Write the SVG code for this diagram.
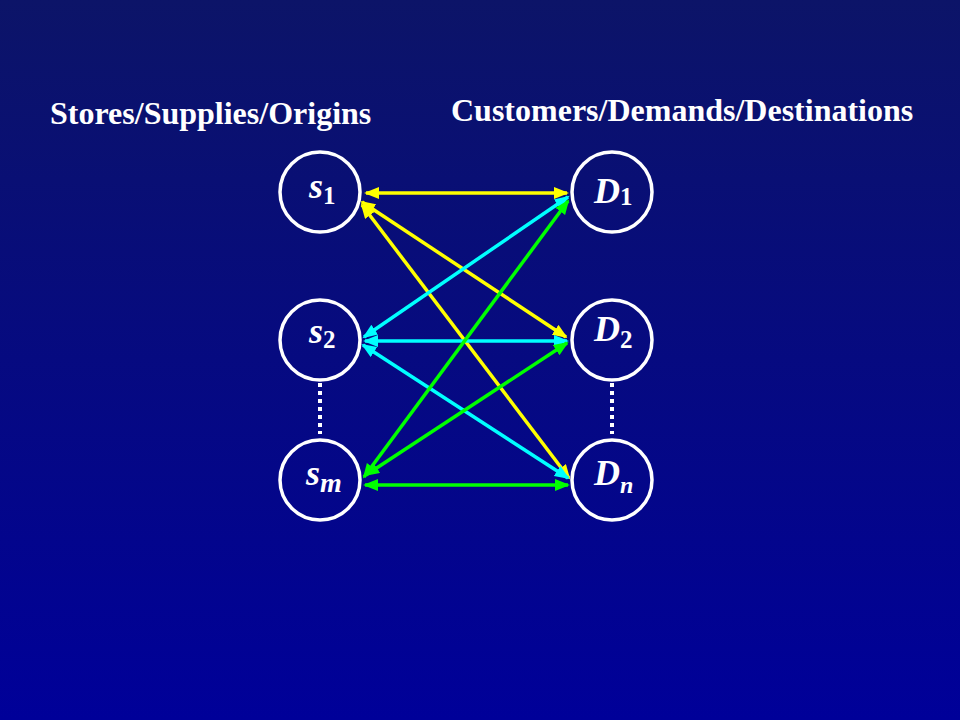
<svg xmlns="http://www.w3.org/2000/svg" width="960" height="720" viewBox="0 0 960 720">
<defs>
<linearGradient id="bg" x1="0" y1="0" x2="0" y2="1">
<stop offset="0" stop-color="#0c1468"/>
<stop offset="1" stop-color="#000099"/>
</linearGradient>
<marker id="ay" markerUnits="userSpaceOnUse" markerWidth="16" markerHeight="14" refX="13" refY="6" orient="auto-start-reverse"><path d="M0,0 L15,6 L0,12 z" fill="#ffff00"/></marker>
<marker id="ac" markerUnits="userSpaceOnUse" markerWidth="16" markerHeight="14" refX="13" refY="6" orient="auto-start-reverse"><path d="M0,0 L15,6 L0,12 z" fill="#00ffff"/></marker>
<marker id="ag" markerUnits="userSpaceOnUse" markerWidth="16" markerHeight="14" refX="13" refY="6" orient="auto-start-reverse"><path d="M0,0 L15,6 L0,12 z" fill="#00ff00"/></marker>
<style>
.node circle{fill:none;stroke:#ffffff;stroke-width:3.5}
.lbl{font-family:"Liberation Serif","Times New Roman",serif;font-weight:bold;font-style:italic;font-size:36px;fill:#ffffff}
.sub{font-size:25px;font-style:normal}
.subi{font-size:28px;font-style:italic}
.title{font-family:"Liberation Serif","Times New Roman",serif;font-weight:bold;font-size:32px;fill:#ffffff}
.y{stroke:#ffff00;stroke-width:3.5;fill:none;marker-start:url(#ay);marker-end:url(#ay)}
.c{stroke:#00ffff;stroke-width:3.5;fill:none;marker-start:url(#ac);marker-end:url(#ac)}
.g{stroke:#00ff00;stroke-width:3.5;fill:none;marker-start:url(#ag);marker-end:url(#ag)}
.dots{stroke:#ffffff;stroke-width:4;stroke-dasharray:4 4}
</style>
</defs>
<rect width="960" height="720" fill="url(#bg)"/>
<text class="title" x="50" y="124">Stores/Supplies/Origins</text>
<text class="title" x="451" y="121">Customers/Demands/Destinations</text>
<g id="connectors">
<line class="y" x1="366" y1="193" x2="567" y2="193"/>
<line class="y" x1="362" y1="202" x2="566" y2="337"/>
<line class="y" x1="362" y1="205" x2="569" y2="478"/>
<line class="c" x1="568" y1="197" x2="364" y2="337"/>
<line class="c" x1="365" y1="341" x2="567" y2="341"/>
<line class="c" x1="363" y1="345" x2="568" y2="478"/>
<line class="g" x1="568" y1="201" x2="364" y2="477"/>
<line class="g" x1="567" y1="343" x2="366" y2="475"/>
<line class="g" x1="365" y1="485" x2="568" y2="485"/>
<line class="dots" x1="320" y1="383" x2="320" y2="434"/>
<line class="dots" x1="612" y1="383" x2="612" y2="434"/>
</g>
<g id="s1" class="node"><circle cx="320" cy="192" r="40"/><text class="lbl" x="309" y="198">s<tspan class="sub" dy="6">1</tspan></text></g>
<g id="s2" class="node"><circle cx="320" cy="340" r="40"/><text class="lbl" x="309" y="343">s<tspan class="sub" dy="5">2</tspan></text></g>
<g id="sm" class="node"><circle cx="320" cy="480" r="40"/><text class="lbl" x="306" y="485">s<tspan class="subi" dy="7">m</tspan></text></g>
<g id="D1" class="node"><circle cx="612" cy="192" r="40"/><text class="lbl" x="594" y="203">D<tspan class="sub" dy="2">1</tspan></text></g>
<g id="D2" class="node"><circle cx="612" cy="340" r="40"/><text class="lbl" x="594" y="341">D<tspan class="sub" dy="7">2</tspan></text></g>
<g id="Dn" class="node"><circle cx="612" cy="480" r="40"/><text class="lbl" x="594" y="485">D<tspan class="subi" dy="8" style="font-size:24px">n</tspan></text></g>
</svg>
